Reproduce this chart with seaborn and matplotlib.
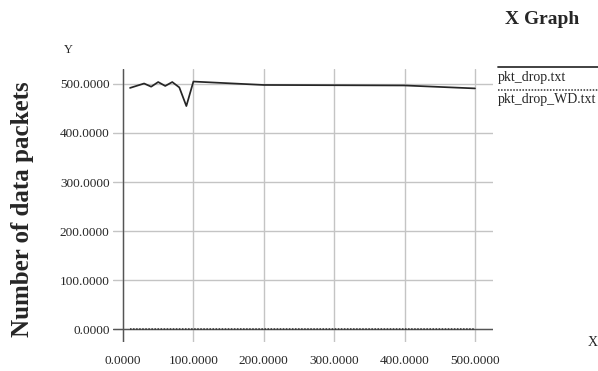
import matplotlib
matplotlib.use("Agg")
import matplotlib.pyplot as plt
import seaborn as sns
import numpy as np
from matplotlib.lines import Line2D

# ---- data ----
x_drop = [10, 30, 40, 50, 60, 70, 80, 90, 100, 200, 300, 400, 500]
y_drop = [492, 501, 494.5, 504, 496, 504, 493, 455, 505, 498, 497.5, 497, 491]
x_wd = [10, 100, 200, 300, 400, 500]
y_wd = [0, 0, 0, 0, 0, 0]
x_ticks = [0, 100, 200, 300, 400, 500]
y_ticks = [0, 100, 200, 300, 400, 500]
series_names = ["pkt_drop.txt", "pkt_drop_WD.txt"]

sns.set_style("white")
plt.rcParams["font.family"] = ["Liberation Serif", "DejaVu Serif"]

fig = plt.figure(figsize=(5.98, 3.71), dpi=100)
ax = fig.add_axes([113 / 598, 1 - 342 / 371, 380 / 598, 273 / 371])

ax.set_xlim(-14.2, 525.6)
ax.set_ylim(-26.5, 530.6)
for s in ax.spines.values():
    s.set_visible(False)

ax.set_xticks(x_ticks)
ax.set_yticks(y_ticks)
ax.set_xticklabels([f"{v:.4f}" for v in x_ticks], fontsize=9.5)
ax.set_yticklabels([f"{v:.4f}" for v in y_ticks], fontsize=9.5)
ax.tick_params(axis="both", length=0)
ax.tick_params(axis="y", pad=2.5)
ax.tick_params(axis="x", pad=9)
ax.grid(True, color="#c4c4c4", linewidth=1.0)
ax.set_axisbelow(True)
ax.axvline(0, color="#555555", linewidth=1.0, zorder=1)
ax.axhline(0, color="#555555", linewidth=1.0, zorder=1)

sns.lineplot(x=x_drop, y=y_drop, ax=ax, color="#262626", linewidth=1.25, zorder=3)
sns.lineplot(x=x_wd, y=y_wd, ax=ax, color="#333333", linewidth=1.1,
             linestyle=(0, (1, 1)), zorder=3)

ax.set_xlabel("")
ax.set_ylabel("")

# legend (xgraph style)
fig.add_artist(Line2D([498 / 598, 1.0], [1 - 67 / 371] * 2, color="#333333",
                      linewidth=1.3, transform=fig.transFigure))
fig.text(498 / 598, 1 - 77 / 371, series_names[0], fontsize=10, va="center", ha="left")
fig.add_artist(Line2D([498 / 598, 1.0], [1 - 90 / 371] * 2, color="#333333",
                      linewidth=1.1, linestyle=(0, (1, 1)), transform=fig.transFigure))
fig.text(498 / 598, 1 - 100 / 371, series_names[1], fontsize=10, va="center", ha="left")

fig.text(542 / 598, 1 - 20 / 371, "X Graph", fontsize=14, fontweight="bold",
         ha="center", va="center")
fig.text(64 / 598, 1 - 50 / 371, "Y", fontsize=9, ha="left", va="center")
fig.text(593 / 598, 1 - 342 / 371, "X", fontsize=10, ha="center", va="center")
fig.text(22 / 598, 1 - 209 / 371, "Number of data packets", fontsize=18,
         fontweight="bold", rotation=90, ha="center", va="center")

fig.savefig("out.png", dpi=100)
